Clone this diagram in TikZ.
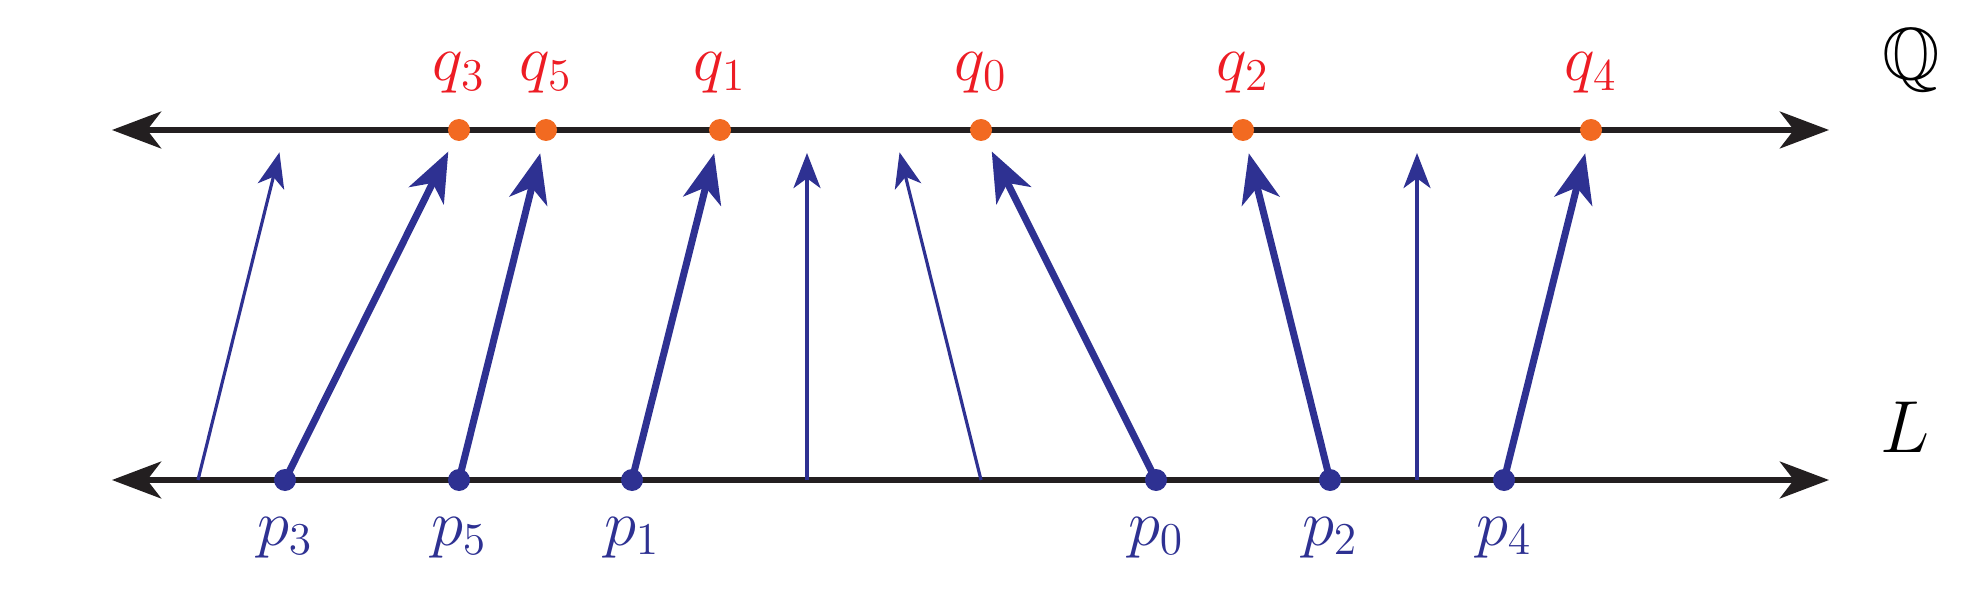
\RequirePackage{fix-cm}
\documentclass[tikz,border=0pt]{standalone}
\usepackage{amssymb}
\usetikzlibrary{arrows.meta}

\definecolor{lineblack}{RGB}{35,31,32}
\definecolor{mapblue}{RGB}{46,49,146}
\definecolor{dotorange}{RGB}{242,106,33}
\definecolor{labelred}{RGB}{237,28,36}

\begin{document}
\begin{tikzpicture}[
    axis/.style={draw=lineblack, line width=1.5pt,
      {Stealth[length=14pt,width=10.5pt,inset=4pt]}-{Stealth[length=14pt,width=10.5pt,inset=4pt]}},
    qdot/.style={circle, fill=dotorange, inner sep=0pt, minimum size=0.22cm},
    pdot/.style={circle, fill=mapblue, inner sep=0pt, minimum size=0.22cm},
    qlabel/.style={text=labelred, inner sep=0pt, font=\fontsize{18.5}{22}\selectfont},
    plabel/.style={text=mapblue, inner sep=0pt, font=\fontsize{18.5}{22}\selectfont},
    map/.style={draw=mapblue, line width=2pt, shorten >=0.24cm,
      -{Stealth[length=14pt,width=11pt,inset=4pt]}},
    thinmap/.style={draw=mapblue, line width=0.9pt, shorten >=0.23cm,
      -{Stealth[length=10pt,width=7.7pt,inset=2.8pt]}},
    label distance=7pt]
  \useasboundingbox (0,0) rectangle (19.83,6.03);

  % the two lines
  \coordinate (Qleft)  at (1.12,4.73);
  \coordinate (Qright) at (18.29,4.73);
  \coordinate (Lleft)  at (1.12,1.23);
  \coordinate (Lright) at (18.29,1.23);
  \draw[axis] (Qleft) -- (Qright);
  \draw[axis] (Lleft) -- (Lright);

  \node[anchor=base, inner sep=0pt, font=\fontsize{21}{24}\selectfont]
       (Qname) at (19.11,5.23) {$\mathbb{Q}$};
  \node[anchor=base, inner sep=0pt, font=\fontsize{21}{24}\selectfont]
       (Lname) at (19.05,1.51) {$L$};

  % points of Q
  \node[qdot, label={[qlabel]above:$q_3$}] (q3) at (4.59,4.73)  {};
  \node[qdot, label={[qlabel]above:$q_5$}] (q5) at (5.46,4.73)  {};
  \node[qdot, label={[qlabel]above:$q_1$}] (q1) at (7.20,4.73)  {};
  \node[qdot, label={[qlabel]above:$q_0$}] (q0) at (9.81,4.73)  {};
  \node[qdot, label={[qlabel]above:$q_2$}] (q2) at (12.43,4.73) {};
  \node[qdot, label={[qlabel]above:$q_4$}] (q4) at (15.91,4.73) {};

  % points of L
  \node[pdot, label={[plabel]below:$p_3$}] (p3) at (2.85,1.23)  {};
  \node[pdot, label={[plabel]below:$p_5$}] (p5) at (4.59,1.23)  {};
  \node[pdot, label={[plabel]below:$p_1$}] (p1) at (6.32,1.23)  {};
  \node[pdot, label={[plabel]below:$p_0$}] (p0) at (11.56,1.23) {};
  \node[pdot, label={[plabel]below:$p_2$}] (p2) at (13.30,1.23) {};
  \node[pdot, label={[plabel]below:$p_4$}] (p4) at (15.04,1.23) {};

  % free ends of the thin arrows
  \coordinate (a1) at (1.98,1.23);  \coordinate (b1) at (2.85,4.73);
  \coordinate (a2) at (8.07,1.23);  \coordinate (b2) at (8.07,4.73);
  \coordinate (a3) at (9.81,1.23);  \coordinate (b3) at (8.94,4.73);
  \coordinate (a4) at (14.17,1.23); \coordinate (b4) at (14.17,4.73);

  \draw[thinmap] (a1) -- (b1);
  \draw[thinmap] (a2) -- (b2);
  \draw[thinmap] (a3) -- (b3);
  \draw[thinmap] (a4) -- (b4);

  \draw[map] (p3.center) -- (q3.center);
  \draw[map] (p5.center) -- (q5.center);
  \draw[map] (p1.center) -- (q1.center);
  \draw[map] (p0.center) -- (q0.center);
  \draw[map] (p2.center) -- (q2.center);
  \draw[map] (p4.center) -- (q4.center);
\end{tikzpicture}
\end{document}
